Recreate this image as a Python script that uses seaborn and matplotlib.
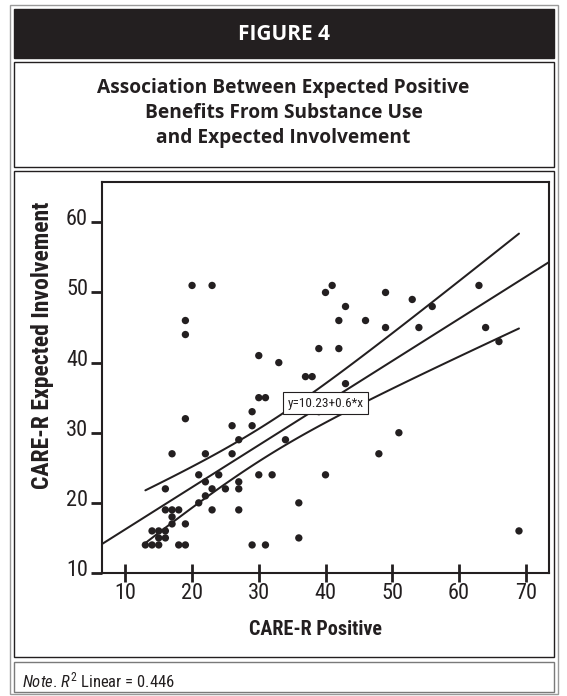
import numpy as np
import pandas as pd
import matplotlib.pyplot as plt
import seaborn as sns
from matplotlib import font_manager
from matplotlib.patches import Rectangle
from matplotlib.transforms import ScaledTranslation

# CARE-R Positive (x) vs CARE-R Expected Involvement (y)
care_positive = [20, 23, 19, 19, 19, 26, 27, 17, 22, 26, 21, 24, 22, 27, 16, 23, 25, 27,
                 22, 21, 16, 17, 18, 23, 27, 17, 17, 19, 29, 41, 40, 49, 43, 42, 46, 49,
                 30, 33, 39, 42, 37, 38, 43, 30, 31, 39, 29, 34, 51, 48, 30, 32, 40, 36,
                 53, 56, 63, 54, 64, 66, 69, 36, 29, 31, 13, 14, 15, 18, 19, 15, 16, 14,
                 15, 16]
expected_involvement = [51, 51, 46, 44, 32, 31, 29, 27, 27, 27, 24, 24, 23, 23, 22, 22, 22, 22,
                        21, 20, 19, 19, 19, 19, 19, 18, 17, 17, 33, 51, 50, 50, 48, 46, 46, 45,
                        41, 40, 42, 42, 38, 38, 37, 35, 35, 33, 31, 29, 30, 27, 24, 24, 24, 20,
                        49, 48, 51, 45, 45, 43, 16, 15, 14, 14, 14, 14, 14, 14, 14, 15, 15, 16,
                        16, 16]

# reported linear fit
intercept = 10.23
slope = 0.6
x_ticks = [10, 20, 30, 40, 50, 60, 70]
y_ticks = [10, 20, 30, 40, 50, 60]
equation_label = "y=10.23+0.6*x"
r2_linear = "0.446"

df = pd.DataFrame({"positive": care_positive, "involvement": expected_involvement})

sns.set_style("ticks")

# pick a narrow face if one is around
fonts = font_manager.fontManager.ttflist
names = {f.name for f in fonts}
narrow = next((n for n in ["Liberation Sans Narrow", "Roboto Condensed", "Open Sans Condensed",
                           "Noto Sans Condensed"] if n in names), None)
k = 1.0
if narrow is None:
    narrow = "DejaVu Sans"
    if any(f.name == "DejaVu Sans" and str(f.stretch) == "condensed" for f in fonts):
        plt.rcParams["font.stretch"] = "condensed"
    else:
        k = 0.86
plt.rcParams["font.family"] = [narrow, "DejaVu Sans"]
plt.rcParams["mathtext.fontset"] = "custom"
plt.rcParams["mathtext.rm"] = narrow
plt.rcParams["mathtext.it"] = narrow + ":italic"

INK = "#231f20"
W, H = 567, 696
fig = plt.figure(figsize=(W / 100, H / 100), dpi=100)


def frame(x0, y0, x1, y1, **kw):
    # pixel box (top-left origin) drawn in figure coords
    r = Rectangle((x0 / W, 1 - y1 / H), (x1 - x0) / W, (y1 - y0) / H,
                  transform=fig.transFigure, **kw)
    fig.add_artist(r)


# page borders
frame(10, 5, 558, 694, fill=False, ec="#9a9a9a", lw=1.0)
frame(14, 9, 554, 58, fc=INK, ec=INK, lw=1.0)
frame(14, 62, 554, 167, fill=False, ec=INK, lw=1.0)
frame(14, 171, 554, 657, fill=False, ec=INK, lw=1.0)
frame(14, 662, 554, 692, fill=False, ec="#7a7a7a", lw=1.0)

title_font = ["Open Sans", "DejaVu Sans"]
fig.text(0.5, 1 - 34 / H, "FIGURE 4", color="white", fontsize=15, fontweight="bold",
         family=title_font, ha="center", va="center")
fig.text(0.5, 1 - 113 / H,
         "Association Between Expected Positive\nBenefits From Substance Use\nand Expected Involvement",
         color=INK, fontsize=13.8, fontweight="bold", family=title_font,
         ha="center", va="center", linespacing=1.3)

ax = fig.add_axes([102 / W, 1 - 573 / H, (549 - 102) / W, (573 - 182) / H])
ax.set_xlim(6.5, 73.5)
ax.set_ylim(10, 65.75)

sns.scatterplot(data=df, x="positive", y="involvement", color=INK, s=28,
                edgecolor="none", ax=ax, zorder=3)

# fit line across the whole axis, plus 95% mean CI over the data range
x = np.array(care_positive, dtype=float)
y = np.array(expected_involvement, dtype=float)
xl = np.array(ax.get_xlim())
ax.plot(xl, intercept + slope * xl, color=INK, lw=1.45)
n = len(x)
s = np.sqrt(np.sum((y - (intercept + slope * x)) ** 2) / (n - 2))
xs = np.linspace(x.min(), x.max(), 100)
half = 1.96 * s * np.sqrt(1 / n + (xs - x.mean()) ** 2 / np.sum((x - x.mean()) ** 2))
ax.plot(xs, intercept + slope * xs + half, color=INK, lw=1.45)
ax.plot(xs, intercept + slope * xs - half, color=INK, lw=1.45)

ax.text(40, intercept + slope * 40, equation_label, fontsize=9.5 * k, ha="center", va="center",
        color=INK, zorder=5,
        bbox=dict(boxstyle="square,pad=0.35", fc="white", ec=INK, lw=0.8))

ax.set_xlim(6.5, 73.5)
ax.set_ylim(10, 65.75)
ax.set_xticks(x_ticks)
ax.set_yticks(y_ticks)
for sp in ax.spines.values():
    sp.set_visible(True)
    sp.set_color(INK)
    sp.set_linewidth(1.5)
ax.tick_params(axis="x", direction="inout", length=13, width=2, color=INK,
               labelsize=16 * k, pad=1, labelcolor=INK)
ax.tick_params(axis="y", direction="out", length=8, width=2, color=INK,
               labelsize=16 * k, pad=2, labelcolor=INK)

ax.set_xlabel("CARE-R Positive", fontsize=14.5 * k, fontweight="bold", color=INK)
ax.set_ylabel("CARE-R Expected Involvement", fontsize=17 * k, fontweight="bold", color=INK)
ax.xaxis.label.set_va("center")
ax.yaxis.label.set_va("center")
ax.xaxis.set_label_coords(0.4785, -0.1445)
ax.yaxis.set_label_coords(-0.134, 0.583)

# y tick numbers sit a little above their ticks
lift = ScaledTranslation(0, 5 / 100, fig.dpi_scale_trans)
for lab in ax.get_yticklabels():
    lab.set_transform(lab.get_transform() + lift)

fig.text(22 / W, 1 - 680 / H, r"$\it{Note}$. $\it{R}^2$ Linear = " + r2_linear,
         fontsize=12 * k, color=INK, ha="left", va="center")

fig.savefig("out.png", dpi=100)
